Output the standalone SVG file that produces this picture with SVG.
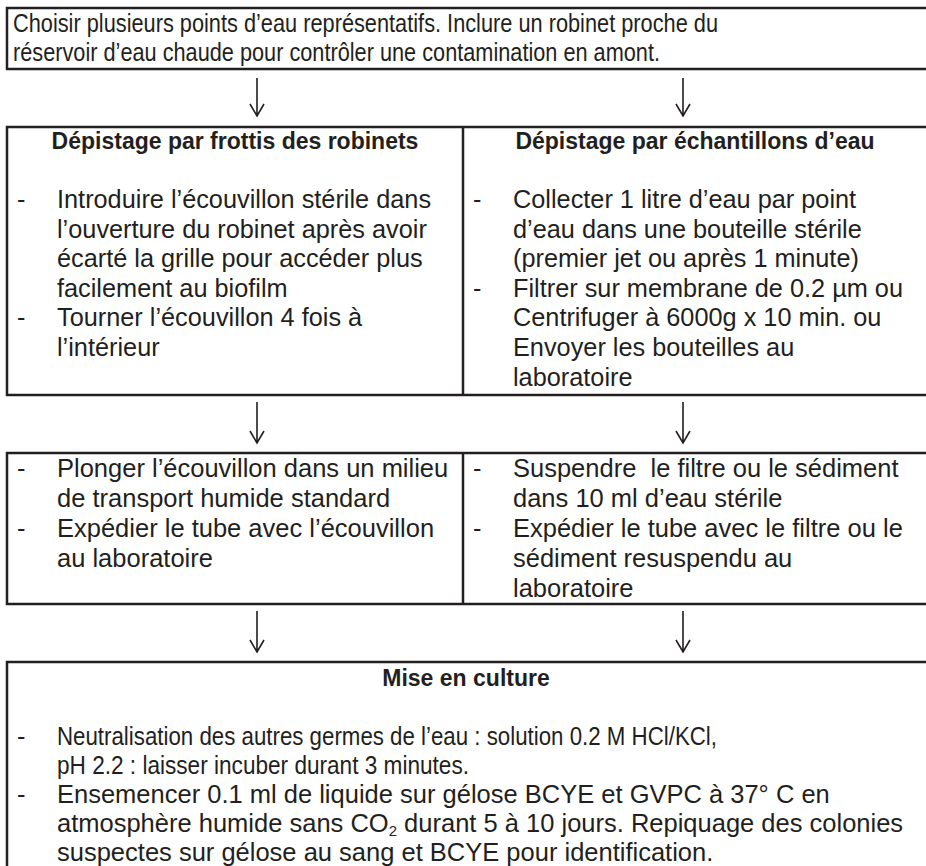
<svg xmlns="http://www.w3.org/2000/svg" width="926" height="866" viewBox="0 0 926 866">
<style>
.box{fill:none;stroke:#231f20;stroke-width:2.5}
.div{stroke:#231f20;stroke-width:2.5}
.t{font-family:"Liberation Sans",Arial,sans-serif;fill:#231f20}
.top{font-size:25px}
.b{font-size:25.3px}
.c{font-size:25.5px}
.h{font-size:23px;font-weight:bold}
.arr{fill:none;stroke:#231f20;stroke-width:1.6}
</style>
<rect width="926" height="866" fill="#fff"/>
<g id="n-start">
<rect class="box" x="7" y="8" width="930" height="61"/>
<text class="t top" x="13" y="32" textLength="705" lengthAdjust="spacingAndGlyphs">Choisir plusieurs points d’eau représentatifs. Inclure un robinet proche du</text>
<text class="t top" x="13" y="61" textLength="647" lengthAdjust="spacingAndGlyphs">réservoir d’eau chaude pour contrôler une contamination en amont.</text>
</g>
<g id="n-depistage">
<rect class="box" x="7" y="127" width="930" height="268"/>
<line class="div" x1="463" y1="127" x2="463" y2="395"/>
</g>
<g id="n-frottis">
<text class="t h" x="235" y="149" text-anchor="middle">Dépistage par frottis des robinets</text>
<text class="t b" x="17" y="208">-</text>
<text class="t b" x="57" y="208">Introduire l’écouvillon stérile dans</text>
<text class="t b" x="57" y="238">l’ouverture du robinet après avoir</text>
<text class="t b" x="57" y="267">écarté la grille pour accéder plus</text>
<text class="t b" x="57" y="297">facilement au biofilm</text>
<text class="t b" x="17" y="326">-</text>
<text class="t b" x="57" y="326">Tourner l’écouvillon 4 fois à</text>
<text class="t b" x="57" y="356">l’intérieur</text>
</g>
<g id="n-echantillons">
<text class="t h" x="695" y="149" text-anchor="middle">Dépistage par échantillons d’eau</text>
<text class="t b" x="473" y="208">-</text>
<text class="t b" x="513" y="208">Collecter 1 litre d’eau par point</text>
<text class="t b" x="513" y="238">d’eau dans une bouteille stérile</text>
<text class="t b" x="513" y="267">(premier jet ou après 1 minute)</text>
<text class="t b" x="473" y="297">-</text>
<text class="t b" x="513" y="297">Filtrer sur membrane de 0.2 µm ou</text>
<text class="t b" x="513" y="326">Centrifuger à 6000g x 10 min. ou</text>
<text class="t b" x="513" y="356">Envoyer les bouteilles au</text>
<text class="t b" x="513" y="386">laboratoire</text>
</g>
<g id="n-transport">
<rect class="box" x="7" y="453" width="930" height="151"/>
<line class="div" x1="463" y1="453" x2="463" y2="604"/>
<text class="t c" x="17" y="477">-</text>
<text class="t c" x="57" y="477">Plonger l’écouvillon dans un milieu</text>
<text class="t c" x="57" y="507">de transport humide standard</text>
<text class="t c" x="17" y="537">-</text>
<text class="t c" x="57" y="537">Expédier le tube avec l’écouvillon</text>
<text class="t c" x="57" y="567">au laboratoire</text>
</g>
<g id="n-suspension">
<text class="t c" x="473" y="477">-</text>
<text class="t c" x="513" y="477" xml:space="preserve">Suspendre  le filtre ou le sédiment</text>
<text class="t c" x="513" y="507">dans 10 ml d’eau stérile</text>
<text class="t c" x="473" y="537">-</text>
<text class="t c" x="513" y="537">Expédier le tube avec le filtre ou le</text>
<text class="t c" x="513" y="567">sédiment resuspendu au</text>
<text class="t c" x="513" y="597">laboratoire</text>
</g>
<g id="n-culture">
<rect class="box" x="7" y="662" width="930" height="220"/>
<text class="t h" x="466" y="686" text-anchor="middle">Mise en culture</text>
<text class="t b" x="17" y="745">-</text>
<text class="t b" x="57" y="745" textLength="660" lengthAdjust="spacingAndGlyphs">Neutralisation des autres germes de l’eau : solution 0.2 M HCl/KCl,</text>
<text class="t b" x="57" y="774" textLength="412" lengthAdjust="spacingAndGlyphs">pH 2.2 : laisser incuber durant 3 minutes.</text>
<text class="t c" x="17" y="803">-</text>
<text class="t c" x="57" y="803">Ensemencer 0.1 ml de liquide sur gélose BCYE et GVPC à 37° C en</text>
<text class="t c" x="57" y="832">atmosphère humide sans CO<tspan font-size="15" dy="4">2</tspan><tspan dy="-4"> durant 5 à 10 jours. Repiquage des colonies</tspan></text>
<text class="t c" x="57" y="861">suspectes sur gélose au sang et BCYE pour identification.</text>
</g>
<g id="connectors">
<path class="arr" d="M257 78V116M250 104L257 116L264 104"/>
<path class="arr" d="M683 78V116M676 104L683 116L690 104"/>
<path class="arr" d="M257 402V443M250 431L257 443L264 431"/>
<path class="arr" d="M683 402V443M676 431L683 443L690 431"/>
<path class="arr" d="M257 611V652M250 640L257 652L264 640"/>
<path class="arr" d="M683 611V652M676 640L683 652L690 640"/>
</g>
</svg>
